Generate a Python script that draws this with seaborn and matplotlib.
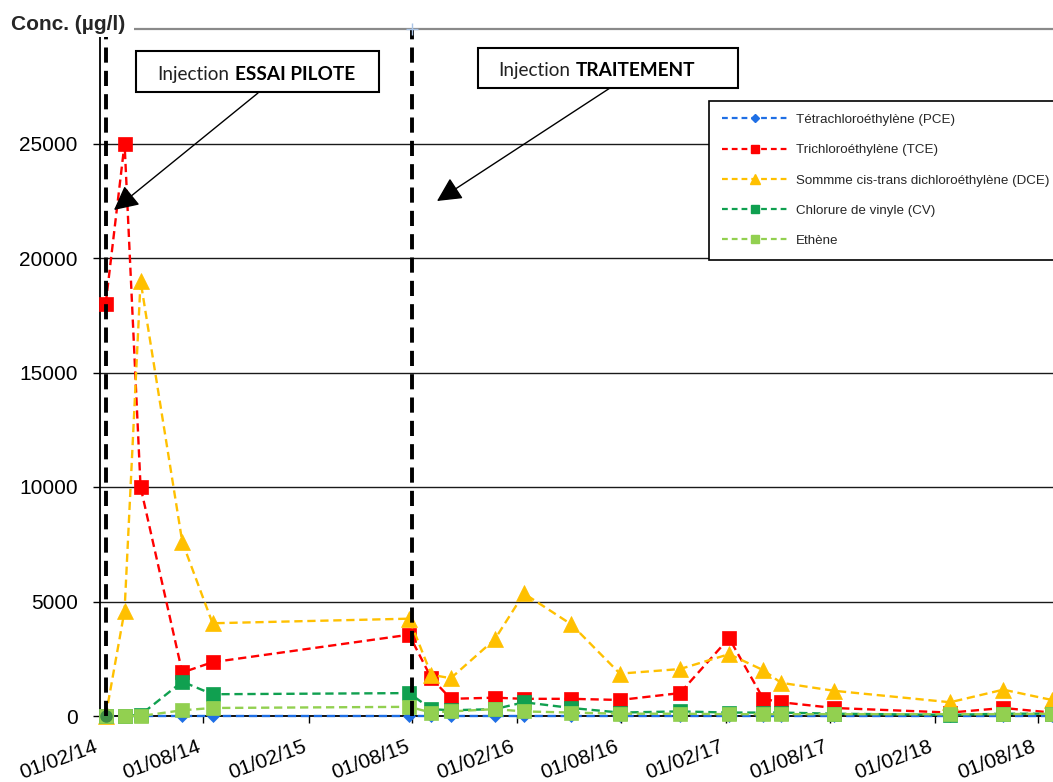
import matplotlib
matplotlib.use("Agg")
import numpy as np
import pandas as pd
import matplotlib.pyplot as plt
import matplotlib.dates as mdates
from matplotlib.lines import Line2D
from matplotlib.patches import Rectangle, FancyArrowPatch
from matplotlib.offsetbox import TextArea, HPacker, AnnotationBbox
import seaborn as sns

# ---- monitoring data (µg/l) ----
sample_dates = ["2014-02-11", "2014-03-16", "2014-04-13", "2014-06-25", "2014-08-17",
                "2015-07-27", "2015-09-04", "2015-10-08", "2015-12-24", "2016-02-13",
                "2016-05-06", "2016-07-30", "2016-11-12", "2017-02-06", "2017-04-07",
                "2017-05-08", "2017-08-09", "2018-02-28", "2018-06-01", "2018-08-25"]

pce = [0, 0, 0, 0, 0, 0, 0, 0, 0, 0, 0, 0, 0, 0, 0, 0, 0, 0, 0, 0]
tce = [18000, 25000, 10000, 1900, 2350, 3550, 1650, 750, 800, 750,
       750, 700, 1000, 3400, 750, 600, 350, 150, 350, 150]
dce = [0, 4600, 19000, 7600, 4050, 4250, 1800, 1650, 3350, 5350,
       4000, 1850, 2050, 2700, 2000, 1450, 1100, 600, 1150, 700]
cv = [0, 0, 50, 1500, 950, 1000, 300, 250, 300, 600,
      350, 150, 200, 150, 150, 150, 100, 50, 100, 100]
ethene = [0, 0, 0, 250, 350, 400, 150, 200, 300, 200,
          150, 100, 100, 80, 80, 80, 80, 80, 80, 100]

series_labels = ["Tétrachloroéthylène (PCE)", "Trichloroéthylène (TCE)",
                 "Sommme cis-trans dichloroéthylène (DCE)", "Chlorure de vinyle (CV)",
                 "Ethène"]

injection_dates = ["2014-02-11", "2015-08-01"]
injection_texts = [("Injection", "ESSAI PILOTE"), ("Injection", "TRAITEMENT")]

y_ticks = [0, 5000, 10000, 15000, 20000, 25000]
y_max = 30000
x_start, x_end = "2014-02-01", "2018-08-27"

# ---- styling ----
sns.set_style("white")
plt.rcParams["font.family"] = ["Liberation Sans", "DejaVu Sans"]

W, H = 1053, 782
fig = plt.figure(figsize=(W / 100, H / 100), dpi=100)
ax = fig.add_axes([100 / W, 66 / H, 953 / W, 687 / H])


def fx(px):
    return px / W


def fy(py):
    return 1 - py / H


df = pd.DataFrame({"date": pd.to_datetime(sample_dates), "PCE": pce, "TCE": tce,
                   "DCE": dce, "CV": cv, "Ethene": ethene})

styles = [
    ("PCE", "#1F6FE5", "D", 6.5),
    ("TCE", "#FF0000", "s", 10),
    ("DCE", "#FFC000", "^", 12),
    ("CV", "#10A050", "s", 10),
    ("Ethene", "#92D050", "s", 10),
]
dash = (0, (3.5, 2.0))
for i, (col, color, mk, ms) in enumerate(styles):
    sns.lineplot(data=df, x="date", y=col, ax=ax, color=color, marker=mk,
                 markersize=ms, markeredgecolor=color, markeredgewidth=0.5,
                 linestyle=dash, linewidth=1.7, clip_on=False, zorder=3 + i,
                 legend=False, sort=False)

# first vinyl chloride sample is shown with a round marker
ax.plot(df["date"].iloc[:1], df["CV"].iloc[:1], marker="o", color="#3F8F45",
        markersize=8, linestyle="none", clip_on=False, zorder=9)

# injection markers
for d in injection_dates:
    ax.axvline(pd.Timestamp(d), color="black", lw=2.8, linestyle=(0, (3.9, 2.1)),
               zorder=10, clip_on=False)
ax.plot([pd.Timestamp(injection_dates[1])], [y_max], marker="+", color="#A9C4E6",
        markersize=9, clip_on=False, zorder=11)

# axes
ax.set_xlim(pd.Timestamp(x_start), pd.Timestamp(x_end))
ax.set_ylim(0, y_max)
ax.set_yticks(y_ticks)
ax.yaxis.grid(True, color="#1a1a1a", lw=1.0)
ax.xaxis.grid(False)
ax.set_axisbelow(True)
ax.xaxis.set_major_locator(mdates.MonthLocator(bymonth=[2, 8], bymonthday=1))
ax.xaxis.set_major_formatter(mdates.DateFormatter("%d/%m/%y"))
ax.tick_params(axis="y", length=5, width=1, pad=11, labelsize=15, left=True,
               colors="black")
ax.tick_params(axis="x", length=5, width=1, pad=10, labelsize=15, bottom=True,
               colors="black")
plt.setp(ax.get_xticklabels(), rotation=20, ha="right")
ax.set_xlabel("")
ax.set_ylabel("")
for s in ["left", "bottom"]:
    ax.spines[s].set_color("black")
    ax.spines[s].set_linewidth(1.3)
ax.spines["top"].set_color("#8a8a8a")
ax.spines["top"].set_linewidth(1.6)
ax.spines["right"].set_visible(False)

# legend
handles = [Line2D([], [], color=c, marker=m, markersize=ms, markeredgecolor=c,
                  linestyle=(0, (2.6, 1.8)), lw=1.6) for _, c, m, ms in styles]
leg = ax.legend(handles, series_labels, loc="upper left",
                bbox_to_anchor=(0.639, 0.895), frameon=True, fancybox=False,
                edgecolor="black", framealpha=1, prop=dict(size=9.6),
                handlelength=5.05, handletextpad=0.52, labelspacing=1.34,
                borderpad=0.95, borderaxespad=0, markerscale=0.6)
leg.get_frame().set_linewidth(1.2)
leg.set_zorder(20)

# unit label in the top-left corner
fig.add_artist(Rectangle((0, fy(37)), fx(134), 37 / H, transform=fig.transFigure,
                         facecolor="white", edgecolor="none", zorder=2))
fig.text(fx(11), fy(25), "Conc. (µg/l)", fontsize=15, fontweight="bold",
         va="center", ha="left", zorder=3)

# annotation boxes with arrows
boxes = [((136, 51, 379, 92), 157, 3.0, (258, 93), (114, 210)),
         ((478, 48, 738, 88), 498, 2.5, (610, 88), (437, 201))]

for ((x0, y0, x1, y1), tx, dy, start, tip), (plain, bold) in zip(boxes, injection_texts):
    fig.add_artist(Rectangle((fx(x0), fy(y1)), fx(x1 - x0), (y1 - y0) / H,
                             transform=fig.transFigure, facecolor="white",
                             edgecolor="black", lw=1.5, zorder=4))
    pack = HPacker(children=[
        TextArea(plain, textprops=dict(family="Lato", size=13.7, color="#222222")),
        TextArea(bold, textprops=dict(family="Lato", size=13.7, fontweight="bold",
                                      color="black")),
    ], pad=0, sep=4, align="baseline")
    ab = AnnotationBbox(pack, (fx(tx), fy((y0 + y1) / 2 + dy)), xycoords="figure fraction",
                        box_alignment=(0, 0.5), frameon=False, pad=0, zorder=5)
    fig.add_artist(ab)
    fig.add_artist(FancyArrowPatch((fx(start[0]), fy(start[1])), (fx(tip[0]), fy(tip[1])),
                                   transform=fig.transFigure,
                                   arrowstyle="-|>,head_length=0.75,head_width=0.38",
                                   mutation_scale=20, lw=1.0, color="black",
                                   shrinkA=0, shrinkB=0, zorder=6))

fig.savefig("out.png", dpi=100)
